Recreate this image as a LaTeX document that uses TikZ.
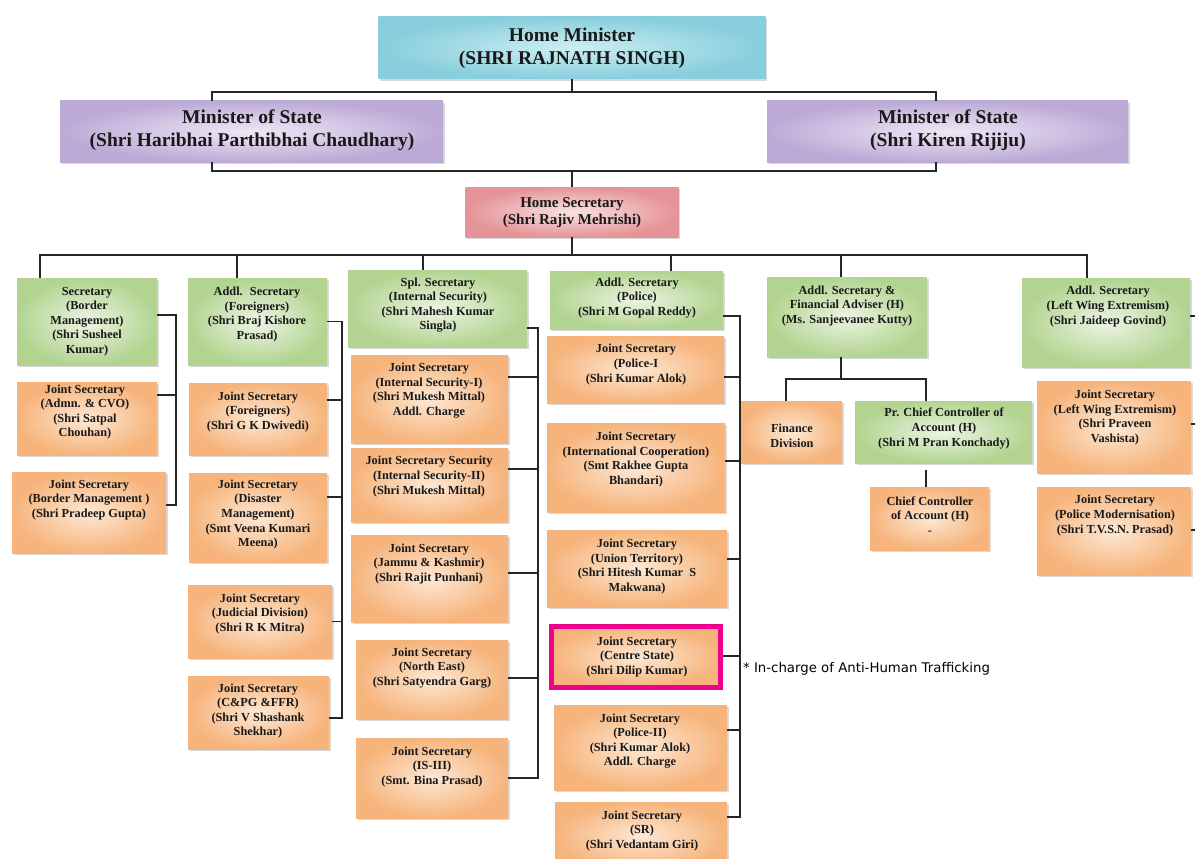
\documentclass[tikz,border=0pt]{standalone}
\usepackage{fontspec}
\setmainfont{Liberation Serif}
\newfontfamily\notefont{DejaVu Sans}
\usetikzlibrary{shadows}
\definecolor{hmL}{RGB}{205,238,243}
\definecolor{hmD}{RGB}{136,206,220}
\definecolor{msL}{RGB}{238,232,245}
\definecolor{msD}{RGB}{188,170,214}
\definecolor{hsL}{RGB}{250,226,226}
\definecolor{hsD}{RGB}{228,148,152}
\definecolor{grL}{RGB}{236,244,228}
\definecolor{grD}{RGB}{178,212,144}
\definecolor{orL}{RGB}{253,232,212}
\definecolor{orD}{RGB}{246,180,124}
\definecolor{csmag}{RGB}{236,0,140}
\tikzset{
  conn/.style={line width=1.1pt, draw=black!85},
  orgbox/.style={inner sep=0pt, drop shadow={shadow xshift=1.5pt, shadow yshift=-2pt, opacity=0.3}},
  hmbox/.style={orgbox, inner color=hmL, outer color=hmD},
  msbox/.style={orgbox, inner color=msL, outer color=msD},
  hsbox/.style={orgbox, inner color=hsL, outer color=hsD},
  grbox/.style={orgbox, inner color=grL, outer color=grD},
  orbox/.style={orgbox, inner color=orL, outer color=orD},
  csbox/.style={orbox, draw=csmag, line width=5pt},
  bigtxt/.style={inner sep=0pt, align=center, text=black!90, font=\bfseries\fontsize{19.5}{23}\selectfont},
  midtxt/.style={inner sep=0pt, align=center, text=black!90, font=\bfseries\fontsize{15}{17}\selectfont},
  boxtxt/.style={inner sep=0pt, align=center, text=black!90, font=\bfseries\fontsize{12.3}{14.6}\selectfont},
  notetxt/.style={inner sep=0pt, anchor=west, font=\notefont\fontsize{13.3}{15}\selectfont},
}
\begin{document}
\begin{tikzpicture}[x=1pt, y=-1pt]
\useasboundingbox (0,0) rectangle (1195,859);
\clip (0,0) rectangle (1195,859);
% ministers and home secretary
\node[hmbox, minimum width=387, minimum height=62] (hm) at (572,48) {};
\node[bigtxt] (hm-t) at (572,48.5) {Home Minister\\(SHRI RAJNATH SINGH)};
\node[msbox, minimum width=383, minimum height=61] (mosL) at (251.5,131.5) {};
\node[bigtxt] (mosL-t) at (252,130.5) {Minister of State\\(Shri Haribhai Parthibhai Chaudhary)};
\node[msbox, minimum width=361, minimum height=61] (mosR) at (947.5,131.5) {};
\node[bigtxt] (mosR-t) at (948,130.5) {Minister of State\\(Shri Kiren Rijiju)};
\node[hsbox, minimum width=213, minimum height=50] (hs) at (572,212) {};
\node[midtxt] (hs-t) at (572,212.5) {Home Secretary\\(Shri Rajiv Mehrishi)};
% border management
\node[grbox, minimum width=140, minimum height=87] (sec1) at (87,321.5) {};
\node[boxtxt] (sec1-t) at (87,321.5) {Secretary\\(Border\\Management)\\(Shri Susheel\\Kumar)};
\node[orbox, minimum width=140, minimum height=73] (adm) at (87,418.5) {};
\node[boxtxt] (adm-t) at (85,412) {Joint Secretary\\(Admn. \& CVO)\\(Shri Satpal\\Chouhan)};
\node[orbox, minimum width=154, minimum height=81] (jsbm) at (89,512.5) {};
\node[boxtxt] (jsbm-t) at (89,500) {Joint Secretary\\(Border Management )\\(Shri Pradeep Gupta)};
% foreigners
\node[grbox, minimum width=139, minimum height=87] (as2) at (257.5,321.5) {};
\node[boxtxt] (as2-t) at (257,314.5) {Addl.~ Secretary\\(Foreigners)\\(Shri Braj Kishore\\Prasad)};
\node[orbox, minimum width=138, minimum height=72] (jsf) at (258,419) {};
\node[boxtxt] (jsf-t) at (258,412) {Joint Secretary\\(Foreigners)\\(Shri G K Dwivedi)};
\node[orbox, minimum width=138, minimum height=89] (jsdm) at (258,517.5) {};
\node[boxtxt] (jsdm-t) at (258,514.5) {Joint Secretary\\(Disaster\\Management)\\(Smt Veena Kumari\\Meena)};
\node[orbox, minimum width=144, minimum height=73] (jud) at (260,621.5) {};
\node[boxtxt] (jud-t) at (260,614) {Joint Secretary\\(Judicial Division)\\(Shri R K Mitra)};
\node[orbox, minimum width=141, minimum height=73] (cpg) at (258.5,712.5) {};
\node[boxtxt] (cpg-t) at (258,711) {Joint Secretary\\(C\&PG \&FFR)\\(Shri V Shashank\\Shekhar)};
% internal security
\node[grbox, minimum width=179, minimum height=77] (ss3) at (437.5,308.5) {};
\node[boxtxt] (ss3-t) at (438,305) {Spl. Secretary\\(Internal Security)\\(Shri Mahesh Kumar\\Singla)};
\node[orbox, minimum width=157, minimum height=88] (is1) at (429.5,399) {};
\node[boxtxt] (is1-t) at (429,390.5) {Joint Secretary\\(Internal Security-I)\\(Shri Mukesh Mittal)\\Addl. Charge};
\node[orbox, minimum width=157, minimum height=74] (is2) at (429.5,485) {};
\node[boxtxt] (is2-t) at (429,476.5) {Joint Secretary Security\\(Internal Security-II)\\(Shri Mukesh Mittal)};
\node[orbox, minimum width=157, minimum height=87] (jk) at (429.5,578.5) {};
\node[boxtxt] (jk-t) at (429,564) {Joint Secretary\\(Jammu \& Kashmir)\\(Shri Rajit Punhani)};
\node[orbox, minimum width=152, minimum height=79] (ne) at (432,679.5) {};
\node[boxtxt] (ne-t) at (432,668) {Joint Secretary\\(North East)\\(Shri Satyendra Garg)};
\node[orbox, minimum width=152, minimum height=80] (is3) at (432,778) {};
\node[boxtxt] (is3-t) at (432,767) {Joint Secretary\\(IS-III)\\(Smt. Bina Prasad)};
% police
\node[grbox, minimum width=173, minimum height=58] (as4) at (636.5,300) {};
\node[boxtxt] (as4-t) at (637,298) {Addl. Secretary\\(Police)\\(Shri M Gopal Reddy)};
\node[orbox, minimum width=177, minimum height=67] (p1) at (635.5,369.5) {};
\node[boxtxt] (p1-t) at (636,364.5) {Joint Secretary\\(Police-I\\(Shri Kumar Alok)};
\node[orbox, minimum width=178, minimum height=89] (ic) at (636,467.5) {};
\node[boxtxt] (ic-t) at (636,459.5) {Joint Secretary\\(International Cooperation)\\(Smt Rakhee Gupta\\Bhandari)};
\node[orbox, minimum width=180, minimum height=77] (ut) at (637,568.5) {};
\node[boxtxt] (ut-t) at (637,566.5) {Joint Secretary\\(Union Territory)\\(Shri Hitesh Kumar~ S\\Makwana)};
\node[csbox, minimum width=169, minimum height=61] (cs) at (636,657) {};
\node[boxtxt] (cs-t) at (637,657) {Joint Secretary\\(Centre State)\\(Shri Dilip Kumar)};
\node[orbox, minimum width=173, minimum height=85] (p2) at (640.5,747.5) {};
\node[boxtxt] (p2-t) at (640,741) {Joint Secretary\\(Police-II)\\(Shri Kumar Alok)\\Addl. Charge};
\node[orbox, minimum width=172, minimum height=68] (sr) at (641,836) {};
\node[boxtxt] (sr-t) at (642,831) {Joint Secretary\\(SR)\\(Shri Vedantam Giri)};
\node[notetxt] (note) at (743,669) {* In-charge of Anti-Human Trafficking};
% finance
\node[grbox, minimum width=160, minimum height=80] (fa5) at (847,317) {};
\node[boxtxt] (fa5-t) at (847,306) {Addl. Secretary \&\\Financial Adviser (H)\\(Ms. Sanjeevanee Kutty)};
\node[orbox, minimum width=101, minimum height=62] (fin) at (791.5,432) {};
\node[boxtxt] (fin-t) at (792,435.5) {Finance\\Division};
\node[grbox, minimum width=177, minimum height=62] (pcc) at (943.5,432) {};
\node[boxtxt] (pcc-t) at (944,428.5) {Pr. Chief Controller of\\Account (H)\\(Shri M Pran Konchady)};
\node[orbox, minimum width=119, minimum height=63] (cca) at (929.5,518.5) {};
\node[boxtxt] (cca-t) at (930,515.5) {Chief Controller\\of Account (H)\\-};
% left wing extremism
\node[grbox, minimum width=168, minimum height=89] (lwe6) at (1106,322.5) {};
\node[boxtxt] (lwe6-t) at (1108,306.5) {Addl. Secretary\\(Left Wing Extremism)\\(Shri Jaideep Govind)};
\node[orbox, minimum width=154, minimum height=92] (jslwe) at (1114,427) {};
\node[boxtxt] (jslwe-t) at (1115,417.5) {Joint Secretary\\(Left Wing Extremism)\\(Shri Praveen\\Vashista)};
\node[orbox, minimum width=154, minimum height=88] (jspm) at (1114,531) {};
\node[boxtxt] (jspm-t) at (1115,515.5) {Joint Secretary\\(Police Modernisation)\\(Shri T.V.S.N. Prasad)};
% buses
\coordinate (busA) at (572,92);
\coordinate (busB) at (572,171);
\coordinate (busC) at (572,255);
\coordinate (bus1) at (176,0);
\coordinate (bus2) at (342,0);
\coordinate (bus3) at (538,0);
\coordinate (bus4) at (740,0);
\coordinate (bus5) at (841,379);
\coordinate (bus6) at (1196,0);
% top connectors
\draw[conn] (hm.south) -- (busA);
\draw[conn] ([xshift=-39.5pt]mosL.north) |- (busA) -| ([xshift=-11.5pt]mosR.north);
\draw[conn] ([xshift=-39.5pt]mosL.south) |- (busB) -| ([xshift=-11.5pt]mosR.south);
\draw[conn] (busB) -- (hs.north);
\draw[conn] (hs.south) -- (busC);
\draw[conn] ([xshift=-47pt]sec1.north) |- (busC) -| ([xshift=-19pt]lwe6.north);
\draw[conn] ([xshift=-20.5pt]as2.north) -- ([xshift=-20.5pt]as2.north |- busC);
\draw[conn] ([xshift=-14.5pt]ss3.north) -- ([xshift=-14.5pt]ss3.north |- busC);
\draw[conn] ([xshift=34.5pt]as4.north) -- ([xshift=34.5pt]as4.north |- busC);
\draw[conn] ([xshift=-6pt]fa5.north) -- ([xshift=-6pt]fa5.north |- busC);
% border management
\draw[conn] ([yshift=6.5pt]sec1.east) -- ([yshift=6.5pt]sec1.east -| bus1) -- ([yshift=7.5pt]jsbm.east -| bus1) -- ([yshift=7.5pt]jsbm.east);
\draw[conn] ([yshift=23.5pt]adm.east) -- ([yshift=23.5pt]adm.east -| bus1);
% foreigners
\draw[conn] (as2.east) -- (as2.east -| bus2) -- ([yshift=-5.5pt]cpg.east -| bus2) -- ([yshift=-5.5pt]cpg.east);
\draw[conn] ([yshift=19pt]jsf.east) -- ([yshift=19pt]jsf.east -| bus2);
\draw[conn] ([yshift=20.5pt]jsdm.east) -- ([yshift=20.5pt]jsdm.east -| bus2);
\draw[conn] (jud.east) -- (jud.east -| bus2);
% internal security
\draw[conn] ([yshift=-19.5pt]ss3.east) -- ([yshift=-19.5pt]ss3.east -| bus3) -- (is3.east -| bus3) -- (is3.east);
\draw[conn] ([yshift=22pt]is1.east) -- ([yshift=22pt]is1.east -| bus3);
\draw[conn] ([yshift=16pt]is2.east) -- ([yshift=16pt]is2.east -| bus3);
\draw[conn] ([yshift=5.5pt]jk.east) -- ([yshift=5.5pt]jk.east -| bus3);
\draw[conn] ([yshift=1.5pt]ne.east) -- ([yshift=1.5pt]ne.east -| bus3);
% police
\draw[conn] ([yshift=-16pt]as4.east) -- ([yshift=-16pt]as4.east -| bus4) -- ([yshift=19pt]sr.east -| bus4) -- ([yshift=19pt]sr.east);
\draw[conn] ([yshift=-7.5pt]p1.east) -- ([yshift=-7.5pt]p1.east -| bus4);
\draw[conn] ([yshift=6.5pt]ic.east) -- ([yshift=6.5pt]ic.east -| bus4);
\draw[conn] ([yshift=9.5pt]ut.east) -- ([yshift=9.5pt]ut.east -| bus4);
\draw[conn] ([yshift=1pt]cs.east) -- ([yshift=1pt]cs.east -| bus4);
\draw[conn] ([yshift=17.5pt]p2.east) -- ([yshift=17.5pt]p2.east -| bus4);
% finance
\draw[conn] ([xshift=-6pt]fa5.south) -- (bus5);
\draw[conn] ([xshift=-5.5pt]fin.north) |- (bus5) -| ([xshift=-17.5pt]pcc.north);
\draw[conn, shorten <=7pt] ([xshift=-17.5pt]pcc.south) -- ([xshift=-3.5pt]cca.north);
% left wing extremism
\draw[conn] ([yshift=6.5pt]lwe6.east) -- ([yshift=6.5pt]lwe6.east -| bus6);
\draw[conn] ([yshift=3pt]jslwe.east) -- ([yshift=3pt]jslwe.east -| bus6);
\draw[conn] ([yshift=1pt]jspm.east) -- ([yshift=1pt]jspm.east -| bus6);
\end{tikzpicture}
\end{document}
